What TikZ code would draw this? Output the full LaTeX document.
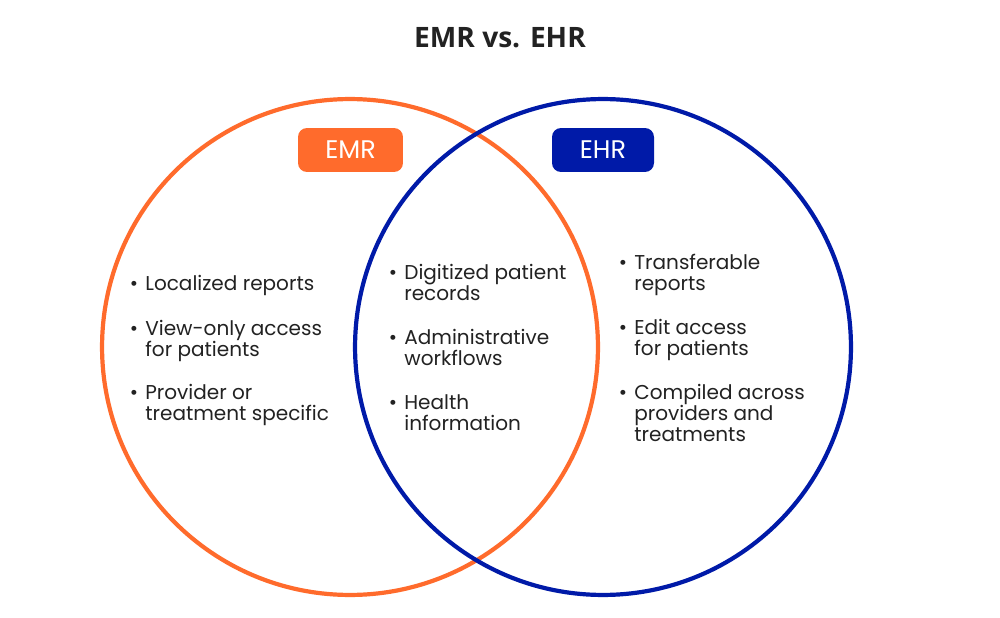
\documentclass[tikz,border=0pt]{standalone}
\usepackage{fontspec}
\setmainfont{Poppins}
\newfontfamily\titlefont{Open Sans}
\definecolor{emrorange}{RGB}{255,107,44}
\definecolor{ehrblue}{RGB}{0,26,168}
\definecolor{txt}{RGB}{34,34,34}
\begin{document}
\begin{tikzpicture}[x=0.02cm,y=-0.02cm,
  ring/.style={line width=0.084cm, draw=#1},
  badge/.style={fill=#1, rounded corners=0.18cm, minimum height=0.88cm, text=white, font=\fontsize{14.5}{16}\selectfont, inner sep=0pt},
  line/.style={anchor=base west, inner sep=0pt, text=txt, font=\fontsize{11.4}{13}\selectfont},
  bul/.style={anchor=base, inner sep=0pt, text=txt, font=\fontsize{11.4}{13}\selectfont}
]
\useasboundingbox[fill=white] (0,0) rectangle (1000,618);
\node[anchor=base, text=txt, font=\titlefont\bfseries\fontsize{16}{18}\selectfont] (title) at (500,48) {EMR vs. EHR};
\draw[ring=emrorange] (350,347) circle [radius=4.96cm];
\draw[ring=ehrblue] (603,347) circle [radius=4.96cm];
\node[badge=emrorange, minimum width=2.1cm] (emr) at (350.5,150) {EMR};
\node[badge=ehrblue, minimum width=2.04cm] (ehr) at (603,150) {EHR};
% left column
\node[bul] (lb1) at (134,290.5) {•};
\node[line] (l1) at (145,290.5) {Localized reports};
\node[bul] (lb2) at (134,335.5) {•};
\node[line] (l2a) at (145,335.5) {View-only access};
\node[line] (l2b) at (145,356.5) {for patients};
\node[bul] (lb3) at (134,399.5) {•};
\node[line] (l3a) at (145,399.5) {Provider or};
\node[line] (l3b) at (145,420.5) {treatment specific};
% middle column
\node[bul] (mb1) at (393,279.5) {•};
\node[line] (m1a) at (404,279.5) {Digitized patient};
\node[line] (m1b) at (404,300.5) {records};
\node[bul] (mb2) at (393,344.5) {•};
\node[line] (m2a) at (404,344.5) {Administrative};
\node[line] (m2b) at (404,365.5) {workflows};
\node[bul] (mb3) at (393,409.5) {•};
\node[line] (m3a) at (404,409.5) {Health};
\node[line] (m3b) at (404,430.5) {information};
% right column
\node[bul] (rb1) at (623,269.5) {•};
\node[line] (r1a) at (634,269.5) {Transferable};
\node[line] (r1b) at (634,290.5) {reports};
\node[bul] (rb2) at (623,334.5) {•};
\node[line] (r2a) at (634,334.5) {Edit access};
\node[line] (r2b) at (634,355.5) {for patients};
\node[bul] (rb3) at (623,399.5) {•};
\node[line] (r3a) at (634,399.5) {Compiled across};
\node[line] (r3b) at (634,420.5) {providers and};
\node[line] (r3c) at (634,441.5) {treatments};
\end{tikzpicture}
\end{document}
